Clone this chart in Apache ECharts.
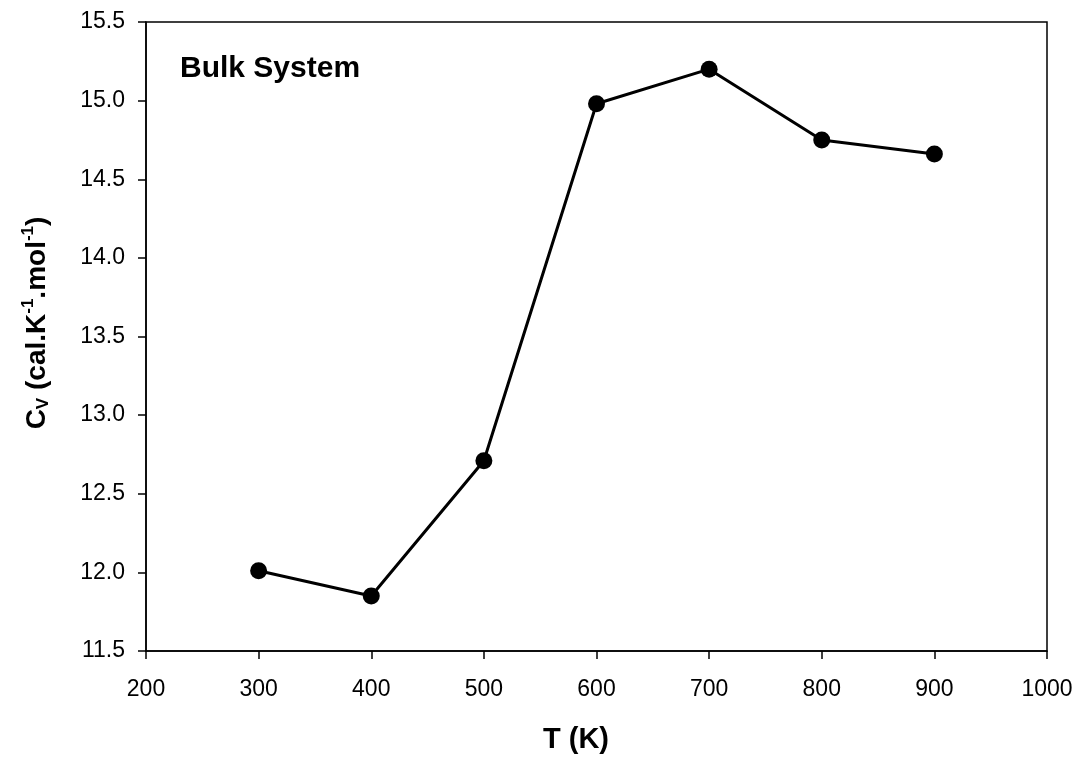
<!DOCTYPE html>
<html><head><meta charset="utf-8">
<script src="https://cdn.jsdelivr.net/npm/echarts@6/dist/echarts.min.js"></script>
<style>html,body{margin:0;padding:0;background:#fff}#c{width:1078px;height:761px}</style>
</head><body><div id="c"></div>
<script>
var temps = [300, 400, 500, 600, 700, 800, 900];
var cv = [12.01, 11.85, 12.71, 14.98, 15.20, 14.75, 14.66];
var xTicks = [200, 300, 400, 500, 600, 700, 800, 900, 1000];
var yTicks = [11.5, 12.0, 12.5, 13.0, 13.5, 14.0, 14.5, 15.0, 15.5];
var xTitle = 'T (K)';
var annotation = 'Bulk System';
var F = '"Liberation Sans", Arial, sans-serif';
var chart = echarts.init(document.getElementById('c'));
chart.setOption({
  animation: false,
  grid: {left: 146, right: 31, top: 22, bottom: 110, show: true, borderColor: '#000', borderWidth: 1.5},
  xAxis: {
    type: 'value', min: 200, max: 1000, interval: 100,
    axisLine: {show: true, onZero: false, lineStyle: {color: '#000', width: 1.5}},
    axisTick: {show: true, length: 8, lineStyle: {color: '#000', width: 1.5}},
    axisLabel: {fontFamily: F, fontSize: 23, color: '#000', margin: 27,
      formatter: function (v) { return xTicks.indexOf(v) >= 0 ? String(v) : ''; }},
    splitLine: {show: false}
  },
  yAxis: {
    type: 'value', min: 11.5, max: 15.5, interval: 0.5,
    axisLine: {show: true, onZero: false, lineStyle: {color: '#000', width: 1.5}},
    axisTick: {show: true, length: 8, lineStyle: {color: '#000', width: 1.5}},
    axisLabel: {fontFamily: F, fontSize: 23, color: '#000', margin: 21,
      formatter: function (v) { return v.toFixed(1); }},
    splitLine: {show: false}
  },
  graphic: [{
    type: 'text', x: 180, y: 69,
    style: {text: annotation, fontFamily: F, fontSize: 30, fontWeight: 'bold', fill: '#000', verticalAlign: 'middle'}
  }, {
    type: 'text', x: 576, y: 740,
    style: {text: xTitle, fontFamily: F, fontSize: 29, fontWeight: 'bold', fill: '#000', align: 'center', verticalAlign: 'middle'}
  }, {
    type: 'text', x: 37, y: 323, rotation: Math.PI / 2,
    style: {
      text: '{b|C}{sub|V}{b| (cal.K}{sup|-1}{b|.mol}{sup|-1}{b|)}',
      align: 'center', verticalAlign: 'middle',
      fontFamily: F, fontSize: 28, fontWeight: 'bold', fill: '#000',
      rich: {
        b: {fontFamily: F, fontSize: 28, fontWeight: 'bold', fill: '#000', lineHeight: 40, verticalAlign: 'middle'},
        sub: {fontFamily: F, fontSize: 17, fontWeight: 'bold', fill: '#000', lineHeight: 40, verticalAlign: 'bottom', padding: [0, 0, 5, 0]},
        sup: {fontFamily: F, fontSize: 17, fontWeight: 'bold', fill: '#000', lineHeight: 40, verticalAlign: 'top', padding: [3, 0, 0, 0]}
      }
    }
  }],
  series: [{
    type: 'line',
    data: temps.map(function (t, i) { return [t, cv[i]]; }),
    symbol: 'circle', symbolSize: 17,
    lineStyle: {color: '#000', width: 3},
    itemStyle: {color: '#000'}
  }]
});
</script></body></html>
